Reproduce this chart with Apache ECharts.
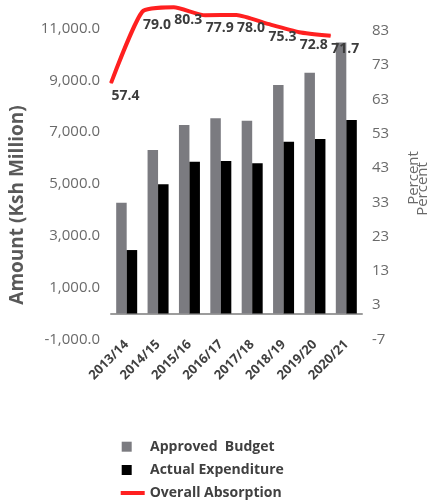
<!DOCTYPE html>
<html>
<head>
<meta charset="utf-8">
<script src="https://cdn.jsdelivr.net/npm/echarts@6/dist/echarts.min.js"></script>
<style>
  html, body { margin: 0; padding: 0; background: #ffffff; }
  #chart { width: 434px; height: 501px; }
</style>
</head>
<body>
<div id="chart"></div>
<script>
// Budget vs. expenditure per financial year, with the absorption rate
const categories = ['2013/14', '2014/15', '2015/16', '2016/17', '2017/18', '2018/19', '2019/20', '2020/21'];
const approvedBudget = [4280, 6310, 7280, 7540, 7440, 8820, 9300, 10460];
const actualExpenditure = [2450, 4990, 5860, 5890, 5800, 6630, 6740, 7470];
const overallAbsorption = [57.4, 79.0, 80.3, 77.9, 78.0, 75.3, 72.8, 71.7];

// Tick labels shown on the two value axes
const amountTicks = [-1000, 1000, 3000, 5000, 7000, 9000, 11000];
const percentTicks = [-7, 3, 13, 23, 33, 43, 53, 63, 73, 83];

const FONT = '"Open Sans", "DejaVu Sans", sans-serif';

const chart = echarts.init(document.getElementById('chart'), null, { renderer: 'canvas' });

chart.setOption({
  animation: false,
  backgroundColor: '#ffffff',
  textStyle: { fontFamily: FONT },
  grid: { left: 111, right: 72, top: 2.7, bottom: 161.6, containLabel: false },
  xAxis: [
    {
      type: 'category',
      data: categories,
      boundaryGap: true,
      axisLine: { show: false, onZero: false },
      axisTick: { show: false },
      axisLabel: {
        rotate: 45,
        margin: 3,
        interval: 0,
        color: '#404040',
        fontSize: 13,
        fontWeight: 'bold',
        fontFamily: FONT
      },
      splitLine: { show: false }
    },
    {
      // absorption points sit on the year boundaries
      type: 'category',
      data: categories.concat(['']),
      boundaryGap: false,
      show: false
    },
    {
      // baseline drawn at zero amount
      type: 'category',
      data: categories,
      position: 'bottom',
      axisLine: { show: true, onZero: true, onZeroAxisIndex: 0, lineStyle: { color: '#9c9c9c', width: 2 } },
      axisTick: { show: false },
      axisLabel: { show: false },
      splitLine: { show: false }
    }
  ],
  yAxis: [
    {
      type: 'value',
      min: -1000,
      max: 12000,
      axisLine: { show: false },
      axisTick: { show: false },
      splitLine: { show: false },
      axisLabel: {
        customValues: amountTicks,
        margin: 11,
        color: '#6a6a6a',
        fontSize: 15,
        fontFamily: FONT,
        formatter: v => v.toLocaleString('en-US', { minimumFractionDigits: 1, maximumFractionDigits: 1 })
      }
    },
    {
      type: 'value',
      position: 'right',
      min: -7,
      max: 91.2,
      axisLine: { show: false },
      axisTick: { show: false },
      splitLine: { show: false },
      axisLabel: {
        customValues: percentTicks,
        margin: 10,
        color: '#6a6a6a',
        fontSize: 15,
        fontFamily: FONT
      }
    },
    {
      // scale used by the absorption line
      type: 'value',
      min: -20,
      max: 81.7,
      show: false
    }
  ],
  legend: [
    {
      orient: 'vertical',
      left: 121.7,
      top: 438.7,
      padding: 0,
      itemWidth: 10,
      itemHeight: 10,
      itemGap: 7.3,
      icon: 'rect',
      selectedMode: false,
      data: ['Approved  Budget', 'Actual Expenditure'],
      textStyle: {
        color: '#404040',
        fontSize: 14,
        fontWeight: 'bold',
        lineHeight: 16,
        fontFamily: FONT,
        padding: [0, 0, 0, 13.3]
      }
    },
    {
      orient: 'vertical',
      left: 120.7,
      top: 485,
      padding: 0,
      itemWidth: 24,
      itemHeight: 4,
      icon: 'rect',
      selectedMode: false,
      data: ['Overall Absorption'],
      textStyle: {
        color: '#404040',
        fontSize: 14,
        fontWeight: 'bold',
        lineHeight: 16,
        fontFamily: FONT
      }
    }
  ],
  series: [
    {
      name: 'Approved  Budget',
      type: 'bar',
      data: approvedBudget,
      barWidth: 10.5,
      barGap: '0%',
      itemStyle: { color: '#7b7b80' }
    },
    {
      name: 'Actual Expenditure',
      type: 'bar',
      data: actualExpenditure,
      barWidth: 10.5,
      barGap: '0%',
      itemStyle: { color: '#000000' }
    },
    {
      name: 'Overall Absorption',
      type: 'line',
      xAxisIndex: 1,
      yAxisIndex: 2,
      data: overallAbsorption,
      smooth: 0.18,
      symbol: 'circle',
      symbolSize: 1,
      itemStyle: { color: '#ff2020' },
      lineStyle: { color: '#ff2020', width: 4 },
      z: 5,
      label: {
        show: true,
        position: 'right',
        distance: 0,
        offset: [0, 13],
        color: '#3c3c3c',
        fontSize: 14,
        fontWeight: 'bold',
        fontFamily: FONT,
        formatter: p => p.value.toFixed(1)
      }
    }
  ],
  graphic: [
    {
      type: 'text',
      x: 17.5,
      y: 205,
      rotation: Math.PI / 2,
      style: {
        text: 'Amount (Ksh Million)',
        fill: '#595959',
        font: 'bold 19px ' + FONT,
        textAlign: 'center',
        textVerticalAlign: 'middle'
      }
    },
    {
      type: 'text',
      x: 414,
      y: 178,
      rotation: Math.PI / 2,
      style: {
        text: 'Percent',
        fill: '#6a6a6a',
        font: '15px ' + FONT,
        textAlign: 'center',
        textVerticalAlign: 'middle'
      }
    },
    {
      type: 'text',
      x: 423,
      y: 189,
      rotation: Math.PI / 2,
      style: {
        text: 'Percent',
        fill: '#6a6a6a',
        font: '15px ' + FONT,
        textAlign: 'center',
        textVerticalAlign: 'middle'
      }
    }
  ]
});
</script>
</body>
</html>
